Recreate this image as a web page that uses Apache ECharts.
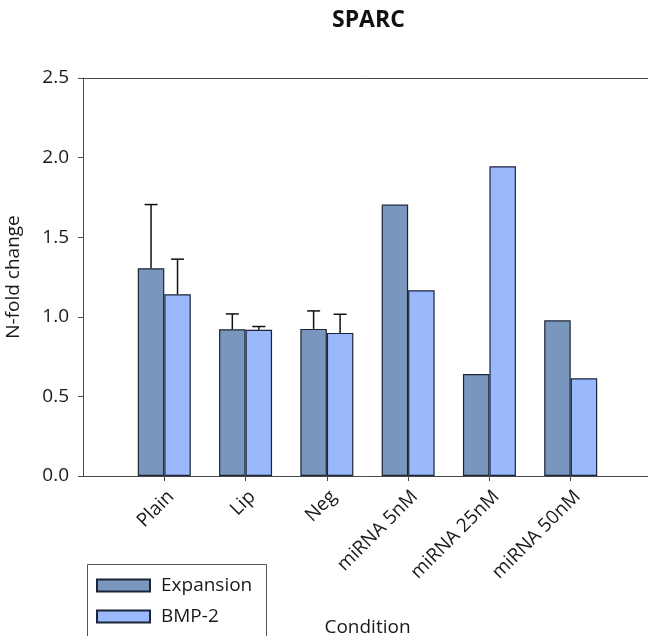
<!DOCTYPE html>
<html>
<head>
<meta charset="utf-8">
<script src="https://cdn.jsdelivr.net/npm/echarts@6/dist/echarts.min.js"></script>
<style>
  html, body { margin: 0; padding: 0; background: #fff; }
  #chart { width: 648px; height: 636px; }
</style>
</head>
<body>
<div id="chart"></div>
<script>
// SPARC expression, N-fold change per condition
const categories = ['Plain', 'Lip', 'Neg', 'miRNA 5nM', 'miRNA 25nM', 'miRNA 50nM'];
const expansion = [1.305, 0.922, 0.924, 1.705, 0.641, 0.978];
const bmp2 = [1.142, 0.918, 0.899, 1.167, 1.946, 0.614];
// upper error (SD) for each bar; null where no error bar is drawn
const expansionErr = [0.40, 0.096, 0.113, null, null, null];
const bmp2Err = [0.22, 0.021, 0.117, null, null, null];
const yTicks = [0, 0.5, 1.0, 1.5, 2.0, 2.5];

const FONT = '"Open Sans", "DejaVu Sans", sans-serif';
const AXIS_COLOR = '#4a4a4a';
const BAR_W = 26.5;

// the axis runs one empty slot beyond the data on each side
const axisCats = [''].concat(categories, ['']);

function errData(values, errs) {
  const out = [];
  values.forEach((v, i) => {
    if (errs[i] != null) out.push([i + 1, v, errs[i]]);
  });
  return out;
}

function errRenderer(offset) {
  return function (params, api) {
    const idx = api.value(0);
    const v = api.value(1);
    const e = api.value(2);
    const base = api.coord([idx, v]);
    const top = api.coord([idx, v + e]);
    const x = base[0] + offset;
    const cap = 6.5;
    const style = { stroke: '#111', lineWidth: 1.5, fill: null };
    return {
      type: 'group',
      children: [
        { type: 'line', shape: { x1: x, y1: base[1], x2: x, y2: top[1] }, style: style },
        { type: 'line', shape: { x1: x - cap, y1: top[1], x2: x + cap, y2: top[1] }, style: style }
      ]
    };
  };
}

const chart = echarts.init(document.getElementById('chart'), null, { renderer: 'canvas' });

chart.setOption({
  animation: false,
  backgroundColor: '#ffffff',
  textStyle: { fontFamily: FONT },
  title: {
    text: 'SPARC',
    left: 332,
    top: 9,
    padding: 0,
    textStyle: { fontFamily: FONT, fontSize: 23, fontWeight: 'bold', color: '#111' }
  },
  grid: {
    left: 83, right: -4, top: 78, bottom: 160,
    containLabel: false,
    outerBoundsMode: 'none'
  },
  legend: {
    data: ['Expansion', 'BMP-2'],
    orient: 'vertical',
    left: 96,
    top: 576,
    padding: 0,
    icon: 'rect',
    itemWidth: 53,
    itemHeight: 12,
    itemGap: 12,
    textStyle: { fontFamily: FONT, fontSize: 19, color: '#1a1a1a', padding: [0, 0, 0, 6] }
  },
  graphic: [{
    type: 'rect',
    shape: { x: 87.5, y: 564.5, width: 179, height: 90 },
    style: { fill: null, stroke: '#555', lineWidth: 1 },
    silent: true,
    z: -1
  }],
  xAxis: [{
    type: 'category',
    data: axisCats,
    boundaryGap: false,
    name: 'Condition',
    nameLocation: 'middle',
    nameGap: 142,
    nameTextStyle: { fontFamily: FONT, fontSize: 19, color: '#1a1a1a' },
    axisLine: { show: true, lineStyle: { color: AXIS_COLOR, width: 1 } },
    axisTick: {
      show: true,
      length: 5,
      inside: false,
      interval: (i) => i > 0 && i < axisCats.length - 1,
      lineStyle: { color: AXIS_COLOR }
    },
    axisLabel: {
      interval: 0,
      rotate: 45,
      margin: 11,
      verticalAlign: 'top',
      fontFamily: FONT,
      fontSize: 19,
      color: '#1a1a1a'
    },
    splitLine: { show: false }
  }, {
    // top frame line
    type: 'category',
    data: axisCats,
    boundaryGap: false,
    position: 'top',
    axisLine: { show: true, lineStyle: { color: AXIS_COLOR, width: 1 } },
    axisTick: { show: false },
    axisLabel: { show: false },
    splitLine: { show: false }
  }],
  yAxis: {
    type: 'value',
    min: yTicks[0],
    max: yTicks[yTicks.length - 1],
    interval: 0.5,
    name: 'N-fold change',
    nameLocation: 'middle',
    nameGap: 60,
    nameTextStyle: { fontFamily: FONT, fontSize: 19, color: '#1a1a1a' },
    axisLine: { show: true, lineStyle: { color: AXIS_COLOR, width: 1 } },
    axisTick: { show: true, length: 5, inside: false, lineStyle: { color: AXIS_COLOR } },
    axisLabel: {
      margin: 14,
      fontFamily: FONT,
      fontSize: 19,
      color: '#1a1a1a',
      formatter: (v) => v.toFixed(1)
    },
    splitLine: { show: false }
  },
  series: [{
    name: 'Expansion',
    type: 'bar',
    data: [null].concat(expansion, [null]),
    barWidth: BAR_W,
    barGap: '0%',
    itemStyle: { color: '#7997bc', borderColor: '#1c2438', borderWidth: 1.2 },
    z: 2
  }, {
    name: 'BMP-2',
    type: 'bar',
    data: [null].concat(bmp2, [null]),
    barWidth: BAR_W,
    barGap: '0%',
    itemStyle: { color: '#99b9fc', borderColor: '#1c2438', borderWidth: 1.2 },
    z: 2
  }, {
    type: 'custom',
    data: errData(expansion, expansionErr),
    encode: { x: 0, y: 1 },
    renderItem: errRenderer(-BAR_W / 2),
    z: 3,
    silent: true
  }, {
    type: 'custom',
    data: errData(bmp2, bmp2Err),
    encode: { x: 0, y: 1 },
    renderItem: errRenderer(BAR_W / 2),
    z: 3,
    silent: true
  }]
});
</script>
</body>
</html>
